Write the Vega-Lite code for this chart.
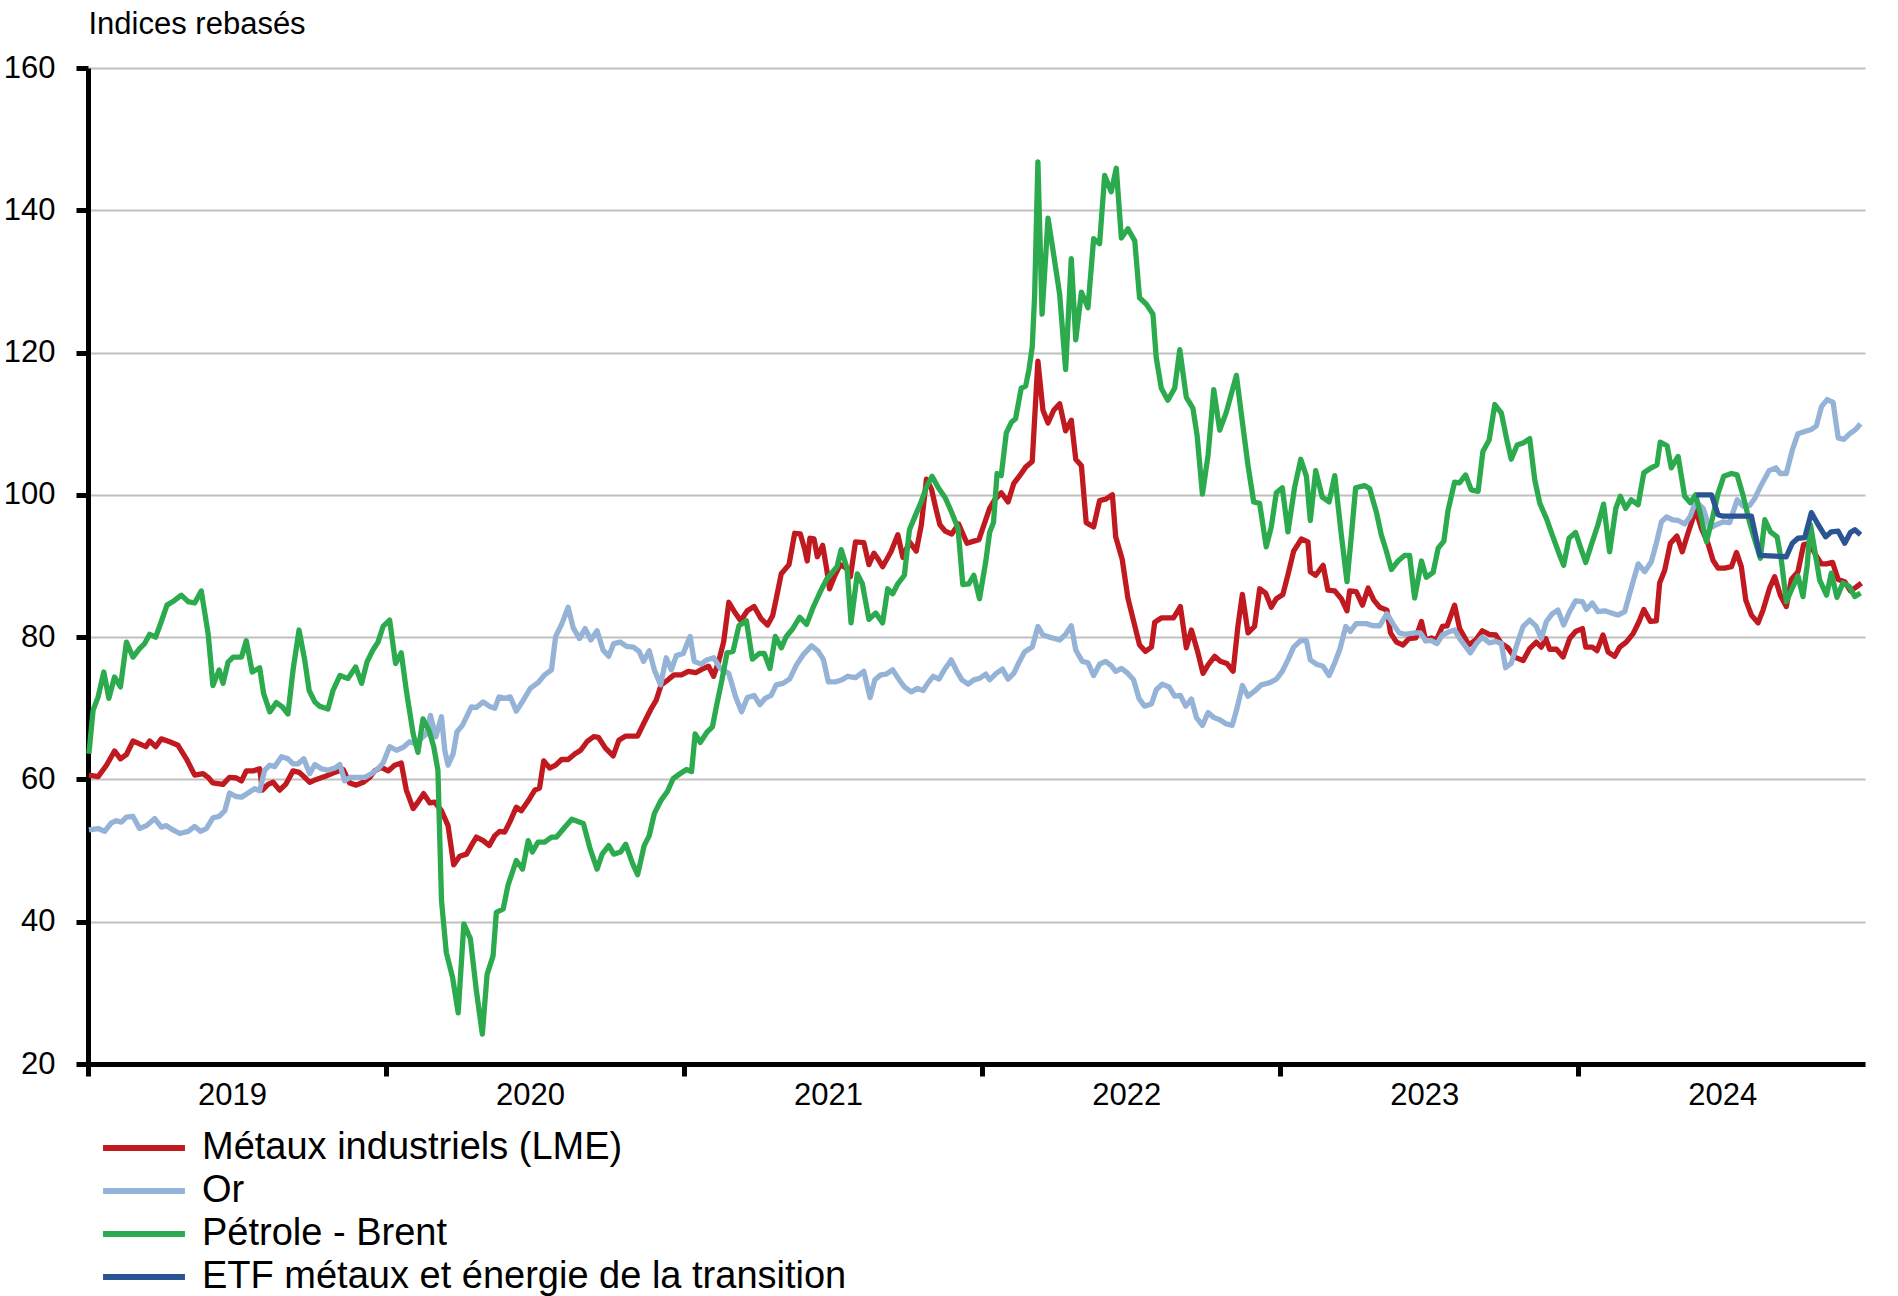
{
"$schema": "https://vega.github.io/schema/vega-lite/v6.json",
"width": 1777, "height": 996,
"autosize": {"type": "none"},
"padding": {"left": 88, "top": 68, "right": 33, "bottom": 232},
"background": "white",
"config": {"font": "Liberation Sans", "view": {"stroke": null}},
"datasets": {
"lme": [
{"t":2019.003,"v":60.6},{"t":2019.034,"v":60.4},{"t":2019.062,"v":62.0},{"t":2019.089,"v":64.0},{"t":2019.109,"v":62.9},{"t":2019.129,"v":63.5},{"t":2019.151,"v":65.4},{"t":2019.173,"v":65.0},{"t":2019.194,"v":64.6},{"t":2019.207,"v":65.4},{"t":2019.227,"v":64.6},{"t":2019.246,"v":65.7},{"t":2019.274,"v":65.3},{"t":2019.302,"v":64.8},{"t":2019.330,"v":62.9},{"t":2019.358,"v":60.6},{"t":2019.386,"v":60.8},{"t":2019.403,"v":60.3},{"t":2019.419,"v":59.5},{"t":2019.453,"v":59.3},{"t":2019.475,"v":60.3},{"t":2019.498,"v":60.2},{"t":2019.515,"v":59.8},{"t":2019.531,"v":61.2},{"t":2019.554,"v":61.2},{"t":2019.576,"v":61.5},{"t":2019.585,"v":58.5},{"t":2019.604,"v":59.3},{"t":2019.621,"v":59.6},{"t":2019.643,"v":58.5},{"t":2019.663,"v":59.3},{"t":2019.688,"v":61.2},{"t":2019.708,"v":61.0},{"t":2019.727,"v":60.3},{"t":2019.744,"v":59.6},{"t":2019.766,"v":60.0},{"t":2019.794,"v":60.4},{"t":2019.822,"v":60.9},{"t":2019.856,"v":61.4},{"t":2019.878,"v":59.5},{"t":2019.900,"v":59.2},{"t":2019.923,"v":59.6},{"t":2019.945,"v":60.3},{"t":2019.962,"v":61.2},{"t":2019.984,"v":61.7},{"t":2020.007,"v":61.2},{"t":2020.029,"v":62.0},{"t":2020.051,"v":62.3},{"t":2020.068,"v":58.5},{"t":2020.091,"v":55.9},{"t":2020.107,"v":56.8},{"t":2020.126,"v":58.0},{"t":2020.147,"v":56.7},{"t":2020.163,"v":56.8},{"t":2020.186,"v":55.6},{"t":2020.208,"v":53.5},{"t":2020.227,"v":48.0},{"t":2020.247,"v":49.2},{"t":2020.270,"v":49.5},{"t":2020.286,"v":50.7},{"t":2020.303,"v":51.9},{"t":2020.326,"v":51.4},{"t":2020.346,"v":50.7},{"t":2020.365,"v":52.1},{"t":2020.381,"v":52.7},{"t":2020.398,"v":52.6},{"t":2020.415,"v":54.0},{"t":2020.437,"v":56.1},{"t":2020.454,"v":55.6},{"t":2020.477,"v":57.0},{"t":2020.499,"v":58.5},
{"t":2020.515,"v":58.8},{"t":2020.529,"v":62.6},{"t":2020.549,"v":61.6},{"t":2020.569,"v":62.0},{"t":2020.589,"v":62.8},{"t":2020.611,"v":62.8},{"t":2020.634,"v":63.6},{"t":2020.653,"v":64.1},{"t":2020.674,"v":65.3},{"t":2020.696,"v":66.0},{"t":2020.713,"v":65.9},{"t":2020.736,"v":64.4},{"t":2020.762,"v":63.3},{"t":2020.781,"v":65.5},{"t":2020.804,"v":66.1},{"t":2020.844,"v":66.1},{"t":2020.866,"v":68.0},{"t":2020.889,"v":69.9},{"t":2020.906,"v":71.1},{"t":2020.923,"v":73.3},{"t":2020.946,"v":74.0},{"t":2020.966,"v":74.7},{"t":2020.991,"v":74.7},{"t":2021.014,"v":75.2},{"t":2021.039,"v":75.0},{"t":2021.065,"v":75.6},{"t":2021.082,"v":75.9},{"t":2021.099,"v":74.5},{"t":2021.116,"v":76.6},{"t":2021.133,"v":79.4},{"t":2021.150,"v":84.9},{"t":2021.170,"v":83.5},{"t":2021.190,"v":82.3},{"t":2021.212,"v":83.7},{"t":2021.235,"v":84.3},{"t":2021.258,"v":82.6},{"t":2021.280,"v":81.7},{"t":2021.297,"v":83.0},{"t":2021.309,"v":85.4},{"t":2021.326,"v":88.9},{"t":2021.352,"v":90.2},{"t":2021.371,"v":94.6},{"t":2021.390,"v":94.5},{"t":2021.405,"v":92.3},{"t":2021.413,"v":90.7},{"t":2021.422,"v":93.9},{"t":2021.436,"v":93.8},{"t":2021.447,"v":91.3},{"t":2021.465,"v":92.9},{"t":2021.479,"v":89.4},{"t":2021.488,"v":86.8},{"t":2021.504,"v":88.5},{"t":2021.524,"v":90.2},{"t":2021.544,"v":89.7},{"t":2021.558,"v":88.5},{"t":2021.575,"v":93.4},{"t":2021.603,"v":93.3},{"t":2021.620,"v":90.2},{"t":2021.637,"v":91.8},{"t":2021.649,"v":91.1},{"t":2021.666,"v":89.9},{"t":2021.694,"v":92.0},{"t":2021.717,"v":94.4},{"t":2021.734,"v":91.2},{"t":2021.756,"v":93.4},{"t":2021.779,"v":92.1},{"t":2021.796,"v":95.8},{"t":2021.813,"v":102.2},{"t":2021.830,"v":100.8},{"t":2021.844,"v":98.2},{"t":2021.858,"v":95.8},{"t":2021.876,"v":94.9},{"t":2021.898,"v":94.5},{"t":2021.921,"v":95.9},{"t":2021.949,"v":93.2},{"t":2021.972,"v":93.5},{"t":2021.989,"v":93.7},{"t":2022.012,"v":96.5},
{"t":2022.025,"v":98.1},{"t":2022.042,"v":99.3},{"t":2022.064,"v":100.3},{"t":2022.087,"v":99.0},{"t":2022.106,"v":101.6},{"t":2022.126,"v":102.7},{"t":2022.146,"v":103.9},{"t":2022.168,"v":104.7},{"t":2022.187,"v":118.8},{"t":2022.204,"v":111.9},{"t":2022.221,"v":110.1},{"t":2022.240,"v":111.9},{"t":2022.260,"v":112.8},{"t":2022.280,"v":109.0},{"t":2022.299,"v":110.5},{"t":2022.314,"v":105.0},{"t":2022.333,"v":104.1},{"t":2022.349,"v":96.1},{"t":2022.374,"v":95.5},{"t":2022.394,"v":99.2},{"t":2022.414,"v":99.4},{"t":2022.437,"v":100.0},{"t":2022.448,"v":94.1},{"t":2022.470,"v":90.9},{"t":2022.489,"v":85.5},{"t":2022.506,"v":82.6},{"t":2022.528,"v":78.9},{"t":2022.548,"v":78.0},{"t":2022.568,"v":78.6},{"t":2022.579,"v":82.1},{"t":2022.601,"v":82.7},{"t":2022.642,"v":82.7},{"t":2022.665,"v":84.3},{"t":2022.685,"v":78.5},{"t":2022.702,"v":81.0},{"t":2022.724,"v":77.8},{"t":2022.741,"v":74.9},{"t":2022.758,"v":76.1},{"t":2022.780,"v":77.3},{"t":2022.799,"v":76.6},{"t":2022.821,"v":76.3},{"t":2022.842,"v":75.2},{"t":2022.858,"v":81.5},{"t":2022.873,"v":86.0},{"t":2022.892,"v":80.6},{"t":2022.914,"v":81.5},{"t":2022.931,"v":86.8},{"t":2022.951,"v":86.2},{"t":2022.970,"v":84.2},{"t":2022.987,"v":85.4},{"t":2023.009,"v":86.0},{"t":2023.026,"v":88.8},{"t":2023.045,"v":92.1},{"t":2023.071,"v":93.8},{"t":2023.093,"v":93.4},{"t":2023.101,"v":89.2},{"t":2023.119,"v":88.7},{"t":2023.144,"v":90.1},{"t":2023.160,"v":86.6},{"t":2023.183,"v":86.5},{"t":2023.205,"v":85.4},{"t":2023.224,"v":83.7},{"t":2023.233,"v":86.5},{"t":2023.255,"v":86.4},{"t":2023.276,"v":84.5},{"t":2023.295,"v":86.9},{"t":2023.314,"v":85.2},{"t":2023.334,"v":84.2},{"t":2023.358,"v":83.8},{"t":2023.370,"v":80.6},{"t":2023.390,"v":79.3},{"t":2023.412,"v":78.9},{"t":2023.432,"v":79.8},{"t":2023.455,"v":79.9},{"t":2023.474,"v":82.2},{"t":2023.488,"v":79.5},{"t":2023.507,"v":79.9},{"t":2023.524,"v":79.6},{"t":2023.544,"v":81.5},{"t":2023.560,"v":81.6},{"t":2023.585,"v":84.5},{"t":2023.602,"v":81.2},
{"t":2023.633,"v":78.9},{"t":2023.656,"v":79.6},{"t":2023.678,"v":80.9},{"t":2023.701,"v":80.4},{"t":2023.723,"v":80.3},{"t":2023.742,"v":79.1},{"t":2023.764,"v":78.5},{"t":2023.787,"v":77.2},{"t":2023.815,"v":76.7},{"t":2023.837,"v":78.4},{"t":2023.859,"v":79.3},{"t":2023.876,"v":78.6},{"t":2023.891,"v":79.8},{"t":2023.904,"v":78.3},{"t":2023.927,"v":78.3},{"t":2023.949,"v":77.2},{"t":2023.971,"v":79.8},{"t":2023.991,"v":80.8},{"t":2024.014,"v":81.2},{"t":2024.025,"v":78.6},{"t":2024.047,"v":78.6},{"t":2024.063,"v":78.1},{"t":2024.083,"v":80.3},{"t":2024.100,"v":77.9},{"t":2024.122,"v":77.3},{"t":2024.139,"v":78.6},{"t":2024.161,"v":79.3},{"t":2024.184,"v":80.5},{"t":2024.204,"v":82.2},{"t":2024.220,"v":83.9},{"t":2024.242,"v":82.2},{"t":2024.262,"v":82.3},{"t":2024.273,"v":87.6},{"t":2024.290,"v":89.4},{"t":2024.309,"v":93.2},{"t":2024.331,"v":94.2},{"t":2024.349,"v":92.0},{"t":2024.368,"v":94.6},{"t":2024.394,"v":97.9},{"t":2024.413,"v":95.3},{"t":2024.435,"v":93.2},{"t":2024.452,"v":90.8},{"t":2024.469,"v":89.7},{"t":2024.491,"v":89.7},{"t":2024.514,"v":89.9},{"t":2024.531,"v":91.9},{"t":2024.547,"v":89.9},{"t":2024.562,"v":85.2},{"t":2024.581,"v":83.1},{"t":2024.603,"v":82.0},{"t":2024.620,"v":83.8},{"t":2024.642,"v":86.9},{"t":2024.659,"v":88.5},{"t":2024.678,"v":85.9},{"t":2024.698,"v":84.3},{"t":2024.715,"v":88.1},{"t":2024.737,"v":89.2},{"t":2024.756,"v":93.0},{"t":2024.777,"v":93.2},{"t":2024.797,"v":91.5},{"t":2024.816,"v":90.3},{"t":2024.833,"v":90.3},{"t":2024.853,"v":90.5},{"t":2024.872,"v":88.1},{"t":2024.894,"v":87.8},{"t":2024.913,"v":86.5},{"t":2024.931,"v":87.0},{"t":2024.950,"v":87.6}
],
"or": [
{"t":2019.003,"v":52.9},{"t":2019.034,"v":53.1},{"t":2019.056,"v":52.7},{"t":2019.078,"v":53.9},{"t":2019.095,"v":54.2},{"t":2019.112,"v":54.0},{"t":2019.129,"v":54.7},{"t":2019.151,"v":54.8},{"t":2019.173,"v":53.1},{"t":2019.196,"v":53.5},{"t":2019.224,"v":54.5},{"t":2019.246,"v":53.3},{"t":2019.263,"v":53.5},{"t":2019.285,"v":52.9},{"t":2019.308,"v":52.4},{"t":2019.336,"v":52.7},{"t":2019.358,"v":53.4},{"t":2019.377,"v":52.7},{"t":2019.397,"v":53.1},{"t":2019.419,"v":54.6},{"t":2019.440,"v":54.8},{"t":2019.459,"v":55.6},{"t":2019.475,"v":58.1},{"t":2019.496,"v":57.6},{"t":2019.515,"v":57.5},{"t":2019.537,"v":58.1},{"t":2019.559,"v":58.7},{"t":2019.576,"v":58.4},{"t":2019.593,"v":61.3},{"t":2019.610,"v":62.0},{"t":2019.626,"v":61.8},{"t":2019.649,"v":63.2},{"t":2019.671,"v":62.9},{"t":2019.688,"v":62.2},{"t":2019.705,"v":62.2},{"t":2019.724,"v":62.9},{"t":2019.744,"v":60.8},{"t":2019.761,"v":62.1},{"t":2019.783,"v":61.5},{"t":2019.805,"v":61.3},{"t":2019.828,"v":61.6},{"t":2019.845,"v":62.1},{"t":2019.861,"v":59.8},{"t":2019.880,"v":60.3},{"t":2019.906,"v":60.3},{"t":2019.928,"v":60.3},{"t":2019.951,"v":60.8},{"t":2019.973,"v":61.5},{"t":2019.990,"v":62.3},{"t":2020.012,"v":64.6},{"t":2020.035,"v":64.1},{"t":2020.057,"v":64.5},{"t":2020.079,"v":65.3},{"t":2020.102,"v":65.0},{"t":2020.124,"v":66.0},{"t":2020.135,"v":66.4},{"t":2020.149,"v":69.0},{"t":2020.167,"v":66.0},{"t":2020.186,"v":68.8},{"t":2020.197,"v":64.1},{"t":2020.208,"v":62.0},{"t":2020.225,"v":63.6},{"t":2020.238,"v":66.7},{"t":2020.256,"v":67.6},{"t":2020.270,"v":68.8},{"t":2020.286,"v":70.2},{"t":2020.303,"v":70.1},{"t":2020.326,"v":70.9},{"t":2020.346,"v":70.3},{"t":2020.365,"v":70.0},{"t":2020.379,"v":71.6},{"t":2020.398,"v":71.4},{"t":2020.417,"v":71.6},{"t":2020.437,"v":69.6},{"t":2020.460,"v":71.1},{"t":2020.484,"v":72.8},{"t":2020.510,"v":73.6},
{"t":2020.532,"v":74.7},{"t":2020.555,"v":75.4},{"t":2020.569,"v":80.1},{"t":2020.589,"v":81.8},{"t":2020.611,"v":84.2},{"t":2020.628,"v":81.3},{"t":2020.649,"v":79.8},{"t":2020.668,"v":81.2},{"t":2020.687,"v":79.6},{"t":2020.708,"v":80.9},{"t":2020.728,"v":78.2},{"t":2020.747,"v":77.3},{"t":2020.764,"v":79.1},{"t":2020.785,"v":79.3},{"t":2020.808,"v":78.7},{"t":2020.830,"v":78.6},{"t":2020.849,"v":78.0},{"t":2020.864,"v":76.6},{"t":2020.883,"v":78.1},{"t":2020.900,"v":75.4},{"t":2020.921,"v":73.3},{"t":2020.940,"v":77.1},{"t":2020.957,"v":75.4},{"t":2020.974,"v":77.4},{"t":2020.997,"v":77.7},{"t":2021.020,"v":80.1},{"t":2021.034,"v":76.6},{"t":2021.057,"v":76.2},{"t":2021.076,"v":76.8},{"t":2021.099,"v":77.1},{"t":2021.122,"v":75.6},{"t":2021.150,"v":74.9},{"t":2021.173,"v":71.6},{"t":2021.193,"v":69.5},{"t":2021.212,"v":71.5},{"t":2021.235,"v":71.8},{"t":2021.254,"v":70.5},{"t":2021.272,"v":71.4},{"t":2021.292,"v":71.8},{"t":2021.309,"v":73.3},{"t":2021.331,"v":73.5},{"t":2021.354,"v":74.1},{"t":2021.377,"v":76.1},{"t":2021.399,"v":77.5},{"t":2021.428,"v":78.8},{"t":2021.450,"v":78.0},{"t":2021.467,"v":76.9},{"t":2021.484,"v":73.7},{"t":2021.507,"v":73.7},{"t":2021.530,"v":74.0},{"t":2021.549,"v":74.5},{"t":2021.575,"v":74.3},{"t":2021.603,"v":75.2},{"t":2021.624,"v":71.5},{"t":2021.640,"v":74.0},{"t":2021.660,"v":74.7},{"t":2021.677,"v":74.8},{"t":2021.700,"v":75.4},{"t":2021.717,"v":74.3},{"t":2021.739,"v":73.0},{"t":2021.762,"v":72.3},{"t":2021.783,"v":72.8},{"t":2021.802,"v":72.5},{"t":2021.819,"v":73.6},{"t":2021.836,"v":74.5},{"t":2021.855,"v":74.1},{"t":2021.876,"v":75.6},{"t":2021.896,"v":76.8},{"t":2021.915,"v":75.2},{"t":2021.932,"v":74.0},{"t":2021.953,"v":73.4},{"t":2021.972,"v":74.0},{"t":2021.991,"v":74.2},{"t":2022.012,"v":74.8},
{"t":2022.025,"v":74.0},{"t":2022.047,"v":74.9},{"t":2022.068,"v":75.5},{"t":2022.087,"v":74.1},{"t":2022.106,"v":74.9},{"t":2022.123,"v":76.4},{"t":2022.142,"v":77.9},{"t":2022.168,"v":78.6},{"t":2022.187,"v":81.5},{"t":2022.204,"v":80.3},{"t":2022.226,"v":80.0},{"t":2022.260,"v":79.6},{"t":2022.280,"v":80.4},{"t":2022.299,"v":81.6},{"t":2022.314,"v":78.2},{"t":2022.336,"v":76.6},{"t":2022.355,"v":76.4},{"t":2022.374,"v":74.6},{"t":2022.394,"v":76.2},{"t":2022.414,"v":76.6},{"t":2022.433,"v":76.0},{"t":2022.448,"v":75.2},{"t":2022.467,"v":75.6},{"t":2022.489,"v":74.9},{"t":2022.508,"v":74.0},{"t":2022.526,"v":71.4},{"t":2022.545,"v":70.3},{"t":2022.568,"v":70.6},{"t":2022.584,"v":72.6},{"t":2022.604,"v":73.4},{"t":2022.627,"v":73.0},{"t":2022.646,"v":71.7},{"t":2022.665,"v":71.8},{"t":2022.683,"v":70.3},{"t":2022.702,"v":71.3},{"t":2022.719,"v":68.7},{"t":2022.739,"v":67.6},{"t":2022.758,"v":69.4},{"t":2022.777,"v":68.7},{"t":2022.797,"v":68.4},{"t":2022.819,"v":67.8},{"t":2022.839,"v":67.6},{"t":2022.855,"v":70.0},{"t":2022.873,"v":73.2},{"t":2022.892,"v":71.7},{"t":2022.914,"v":72.4},{"t":2022.937,"v":73.3},{"t":2022.965,"v":73.6},{"t":2022.987,"v":74.1},{"t":2023.007,"v":75.2},{"t":2023.026,"v":76.8},{"t":2023.045,"v":78.6},{"t":2023.068,"v":79.5},{"t":2023.088,"v":79.5},{"t":2023.101,"v":76.8},{"t":2023.121,"v":76.2},{"t":2023.144,"v":75.9},{"t":2023.164,"v":74.6},{"t":2023.183,"v":76.4},{"t":2023.200,"v":78.3},{"t":2023.220,"v":81.5},{"t":2023.235,"v":80.8},{"t":2023.255,"v":81.9},{"t":2023.289,"v":81.9},{"t":2023.311,"v":81.6},{"t":2023.334,"v":81.6},{"t":2023.358,"v":83.3},{"t":2023.378,"v":81.9},{"t":2023.399,"v":80.6},{"t":2023.418,"v":80.4},{"t":2023.451,"v":80.6},{"t":2023.470,"v":80.6},{"t":2023.488,"v":79.5},{"t":2023.507,"v":79.5},{"t":2023.526,"v":79.1},{"t":2023.544,"v":80.3},{"t":2023.569,"v":80.8},{"t":2023.585,"v":81.0},{"t":2023.602,"v":79.8},
{"t":2023.638,"v":77.8},{"t":2023.658,"v":79.1},{"t":2023.678,"v":80.0},{"t":2023.701,"v":79.2},{"t":2023.723,"v":79.4},{"t":2023.742,"v":79.1},{"t":2023.756,"v":75.7},{"t":2023.775,"v":76.3},{"t":2023.795,"v":79.1},{"t":2023.815,"v":81.5},{"t":2023.837,"v":82.4},{"t":2023.859,"v":81.5},{"t":2023.876,"v":79.8},{"t":2023.893,"v":82.2},{"t":2023.913,"v":83.3},{"t":2023.932,"v":83.8},{"t":2023.951,"v":81.7},{"t":2023.971,"v":83.6},{"t":2023.991,"v":85.1},{"t":2024.014,"v":85.0},{"t":2024.027,"v":83.9},{"t":2024.047,"v":84.8},{"t":2024.066,"v":83.6},{"t":2024.089,"v":83.7},{"t":2024.111,"v":83.4},{"t":2024.133,"v":83.1},{"t":2024.156,"v":83.6},{"t":2024.173,"v":86.2},{"t":2024.201,"v":90.3},{"t":2024.223,"v":89.2},{"t":2024.245,"v":90.6},{"t":2024.262,"v":93.2},{"t":2024.279,"v":96.2},{"t":2024.296,"v":96.9},{"t":2024.316,"v":96.5},{"t":2024.335,"v":96.4},{"t":2024.357,"v":95.9},{"t":2024.376,"v":97.0},{"t":2024.394,"v":99.1},{"t":2024.419,"v":98.1},{"t":2024.441,"v":95.3},{"t":2024.463,"v":95.8},{"t":2024.486,"v":96.2},{"t":2024.508,"v":96.1},{"t":2024.533,"v":99.3},{"t":2024.553,"v":98.4},{"t":2024.575,"v":98.5},{"t":2024.592,"v":99.5},{"t":2024.614,"v":101.4},{"t":2024.640,"v":103.4},{"t":2024.663,"v":103.8},{"t":2024.678,"v":103.0},{"t":2024.698,"v":103.0},{"t":2024.718,"v":106.3},{"t":2024.737,"v":108.6},{"t":2024.760,"v":108.9},{"t":2024.782,"v":109.2},{"t":2024.799,"v":109.7},{"t":2024.816,"v":112.4},{"t":2024.835,"v":113.4},{"t":2024.855,"v":113.0},{"t":2024.872,"v":108.0},{"t":2024.891,"v":107.8},{"t":2024.911,"v":108.6},{"t":2024.931,"v":109.2},{"t":2024.947,"v":110.0}
],
"brent": [
{"t":2019.003,"v":63.6},{"t":2019.017,"v":69.7},{"t":2019.034,"v":71.6},{"t":2019.053,"v":75.1},{"t":2019.070,"v":71.4},{"t":2019.089,"v":74.4},{"t":2019.109,"v":73.0},{"t":2019.129,"v":79.3},{"t":2019.151,"v":77.2},{"t":2019.173,"v":78.4},{"t":2019.190,"v":79.1},{"t":2019.207,"v":80.4},{"t":2019.227,"v":80.0},{"t":2019.246,"v":82.2},{"t":2019.265,"v":84.5},{"t":2019.285,"v":85.0},{"t":2019.313,"v":85.9},{"t":2019.336,"v":85.0},{"t":2019.358,"v":84.8},{"t":2019.380,"v":86.5},{"t":2019.403,"v":80.5},{"t":2019.419,"v":73.2},{"t":2019.440,"v":75.4},{"t":2019.453,"v":73.5},{"t":2019.470,"v":76.5},{"t":2019.487,"v":77.2},{"t":2019.515,"v":77.2},{"t":2019.531,"v":79.5},{"t":2019.551,"v":75.1},{"t":2019.576,"v":75.7},{"t":2019.589,"v":72.1},{"t":2019.610,"v":69.5},{"t":2019.632,"v":70.8},{"t":2019.652,"v":70.2},{"t":2019.671,"v":69.2},{"t":2019.688,"v":75.4},{"t":2019.708,"v":81.0},{"t":2019.727,"v":76.8},{"t":2019.742,"v":72.5},{"t":2019.761,"v":70.9},{"t":2019.777,"v":70.3},{"t":2019.805,"v":69.9},{"t":2019.822,"v":72.5},{"t":2019.845,"v":74.6},{"t":2019.872,"v":74.2},{"t":2019.898,"v":75.8},{"t":2019.918,"v":73.5},{"t":2019.936,"v":76.5},{"t":2019.956,"v":78.2},{"t":2019.973,"v":79.3},{"t":2019.990,"v":81.5},{"t":2020.012,"v":82.4},{"t":2020.032,"v":76.3},{"t":2020.051,"v":77.8},{"t":2020.068,"v":72.5},{"t":2020.091,"v":66.4},{"t":2020.107,"v":63.8},{"t":2020.124,"v":68.5},{"t":2020.144,"v":66.9},{"t":2020.160,"v":64.6},{"t":2020.174,"v":61.3},{"t":2020.186,"v":43.0},{"t":2020.202,"v":35.7},{"t":2020.223,"v":32.2},{"t":2020.242,"v":27.2},{"t":2020.261,"v":39.7},{"t":2020.283,"v":37.6},{"t":2020.303,"v":30.3},{"t":2020.323,"v":24.2},{"t":2020.339,"v":32.6},{"t":2020.359,"v":35.2},{"t":2020.370,"v":41.3},{"t":2020.393,"v":41.8},{"t":2020.409,"v":45.1},{"t":2020.437,"v":48.6},{"t":2020.458,"v":47.4},{"t":2020.477,"v":51.4},{"t":2020.491,"v":49.8},{"t":2020.510,"v":51.2},
{"t":2020.532,"v":51.2},{"t":2020.555,"v":51.9},{"t":2020.572,"v":51.9},{"t":2020.594,"v":53.0},{"t":2020.623,"v":54.4},{"t":2020.662,"v":53.8},{"t":2020.685,"v":50.2},{"t":2020.708,"v":47.4},{"t":2020.725,"v":49.5},{"t":2020.747,"v":50.7},{"t":2020.764,"v":49.5},{"t":2020.787,"v":49.8},{"t":2020.804,"v":50.9},{"t":2020.827,"v":48.2},{"t":2020.844,"v":46.6},{"t":2020.866,"v":50.7},{"t":2020.883,"v":52.1},{"t":2020.900,"v":55.2},{"t":2020.923,"v":57.1},{"t":2020.944,"v":58.3},{"t":2020.963,"v":60.1},{"t":2020.986,"v":60.8},{"t":2021.008,"v":61.4},{"t":2021.025,"v":61.1},{"t":2021.037,"v":66.4},{"t":2021.054,"v":65.2},{"t":2021.076,"v":66.6},{"t":2021.095,"v":67.4},{"t":2021.110,"v":70.6},{"t":2021.127,"v":74.0},{"t":2021.144,"v":77.8},{"t":2021.164,"v":78.0},{"t":2021.184,"v":81.6},{"t":2021.209,"v":82.3},{"t":2021.229,"v":76.9},{"t":2021.252,"v":77.7},{"t":2021.269,"v":77.7},{"t":2021.288,"v":75.6},{"t":2021.306,"v":80.1},{"t":2021.326,"v":78.5},{"t":2021.343,"v":80.1},{"t":2021.363,"v":81.1},{"t":2021.388,"v":82.8},{"t":2021.411,"v":81.8},{"t":2021.433,"v":84.2},{"t":2021.456,"v":86.3},{"t":2021.479,"v":88.2},{"t":2021.499,"v":89.2},{"t":2021.513,"v":89.9},{"t":2021.527,"v":92.3},{"t":2021.547,"v":89.6},{"t":2021.560,"v":82.0},{"t":2021.581,"v":88.9},{"t":2021.598,"v":87.5},{"t":2021.620,"v":82.5},{"t":2021.643,"v":83.4},{"t":2021.666,"v":82.0},{"t":2021.683,"v":86.8},{"t":2021.700,"v":86.1},{"t":2021.717,"v":87.5},{"t":2021.739,"v":88.7},{"t":2021.756,"v":95.1},{"t":2021.773,"v":96.8},{"t":2021.796,"v":99.1},{"t":2021.813,"v":101.1},{"t":2021.832,"v":102.6},{"t":2021.853,"v":101.0},{"t":2021.876,"v":99.6},{"t":2021.896,"v":97.7},{"t":2021.919,"v":95.3},{"t":2021.935,"v":87.4},{"t":2021.955,"v":87.5},{"t":2021.972,"v":88.7},{"t":2021.991,"v":85.4},{"t":2022.012,"v":90.6},
{"t":2022.025,"v":94.7},{"t":2022.038,"v":96.1},{"t":2022.050,"v":103.0},{"t":2022.064,"v":102.7},{"t":2022.081,"v":108.7},{"t":2022.098,"v":110.2},{"t":2022.112,"v":110.7},{"t":2022.131,"v":115.0},{"t":2022.146,"v":115.3},{"t":2022.157,"v":117.6},{"t":2022.168,"v":120.8},{"t":2022.176,"v":128.0},{"t":2022.187,"v":146.8},{"t":2022.201,"v":125.4},{"t":2022.221,"v":138.9},{"t":2022.238,"v":134.3},{"t":2022.260,"v":128.2},{"t":2022.280,"v":117.6},{"t":2022.299,"v":133.2},{"t":2022.314,"v":121.8},{"t":2022.333,"v":128.5},{"t":2022.355,"v":126.3},{"t":2022.374,"v":136.0},{"t":2022.394,"v":135.3},{"t":2022.411,"v":144.9},{"t":2022.433,"v":142.6},{"t":2022.450,"v":145.9},{"t":2022.467,"v":136.1},{"t":2022.489,"v":137.4},{"t":2022.512,"v":135.7},{"t":2022.528,"v":127.7},{"t":2022.551,"v":126.8},{"t":2022.573,"v":125.4},{"t":2022.584,"v":119.3},{"t":2022.601,"v":115.0},{"t":2022.623,"v":113.3},{"t":2022.646,"v":115.0},{"t":2022.663,"v":120.4},{"t":2022.685,"v":113.7},{"t":2022.707,"v":112.2},{"t":2022.721,"v":108.4},{"t":2022.739,"v":100.1},{"t":2022.758,"v":105.6},{"t":2022.777,"v":114.8},{"t":2022.797,"v":109.1},{"t":2022.819,"v":111.6},{"t":2022.853,"v":116.8},{"t":2022.875,"v":109.6},{"t":2022.892,"v":104.1},{"t":2022.911,"v":99.0},{"t":2022.931,"v":98.8},{"t":2022.953,"v":92.7},{"t":2022.970,"v":95.5},{"t":2022.987,"v":100.3},{"t":2023.007,"v":101.0},{"t":2023.026,"v":94.8},{"t":2023.048,"v":101.0},{"t":2023.069,"v":105.0},{"t":2023.088,"v":102.6},{"t":2023.101,"v":96.4},{"t":2023.119,"v":103.4},{"t":2023.141,"v":99.7},{"t":2023.164,"v":99.0},{"t":2023.183,"v":102.7},{"t":2023.205,"v":94.4},{"t":2023.224,"v":87.8},{"t":2023.239,"v":94.4},{"t":2023.253,"v":101.0},{"t":2023.283,"v":101.3},{"t":2023.300,"v":100.9},{"t":2023.323,"v":97.5},{"t":2023.339,"v":94.4},{"t":2023.356,"v":92.1},{"t":2023.373,"v":89.5},{"t":2023.395,"v":90.7},{"t":2023.418,"v":91.5},{"t":2023.434,"v":91.5},{"t":2023.451,"v":85.5},{"t":2023.474,"v":90.7},{"t":2023.490,"v":88.4},{"t":2023.513,"v":89.1},{"t":2023.530,"v":92.5},{"t":2023.549,"v":93.5},{"t":2023.563,"v":97.8},{"t":2023.585,"v":101.8},{"t":2023.602,"v":101.7},
{"t":2023.622,"v":102.8},{"t":2023.641,"v":100.7},{"t":2023.664,"v":100.5},{"t":2023.680,"v":106.1},{"t":2023.701,"v":107.7},{"t":2023.720,"v":112.7},{"t":2023.742,"v":111.5},{"t":2023.759,"v":108.0},{"t":2023.775,"v":105.0},{"t":2023.795,"v":107.0},{"t":2023.815,"v":107.3},{"t":2023.837,"v":107.9},{"t":2023.854,"v":102.1},{"t":2023.871,"v":98.8},{"t":2023.893,"v":96.7},{"t":2023.915,"v":94.1},{"t":2023.935,"v":91.8},{"t":2023.951,"v":90.1},{"t":2023.969,"v":93.9},{"t":2023.991,"v":94.7},{"t":2024.007,"v":92.7},{"t":2024.025,"v":90.5},{"t":2024.044,"v":93.0},{"t":2024.066,"v":95.8},{"t":2024.085,"v":98.7},{"t":2024.105,"v":92.0},{"t":2024.126,"v":98.1},{"t":2024.141,"v":99.8},{"t":2024.159,"v":98.1},{"t":2024.178,"v":99.3},{"t":2024.201,"v":98.6},{"t":2024.220,"v":103.1},{"t":2024.245,"v":103.8},{"t":2024.264,"v":104.2},{"t":2024.275,"v":107.4},{"t":2024.298,"v":106.9},{"t":2024.312,"v":103.8},{"t":2024.335,"v":105.4},{"t":2024.357,"v":99.8},{"t":2024.376,"v":98.9},{"t":2024.394,"v":100.0},{"t":2024.413,"v":96.7},{"t":2024.430,"v":93.4},{"t":2024.450,"v":96.7},{"t":2024.469,"v":100.2},{"t":2024.488,"v":102.6},{"t":2024.514,"v":103.0},{"t":2024.533,"v":102.8},{"t":2024.553,"v":99.9},{"t":2024.575,"v":96.1},{"t":2024.592,"v":93.7},{"t":2024.611,"v":91.1},{"t":2024.626,"v":96.5},{"t":2024.645,"v":94.8},{"t":2024.667,"v":94.1},{"t":2024.682,"v":90.6},{"t":2024.698,"v":85.0},{"t":2024.718,"v":86.9},{"t":2024.737,"v":88.6},{"t":2024.754,"v":85.7},{"t":2024.768,"v":90.1},{"t":2024.779,"v":95.8},{"t":2024.793,"v":92.3},{"t":2024.810,"v":88.0},{"t":2024.833,"v":85.9},{"t":2024.849,"v":89.0},{"t":2024.868,"v":85.6},{"t":2024.888,"v":87.6},{"t":2024.909,"v":87.1},{"t":2024.928,"v":85.7},{"t":2024.947,"v":86.2}
],
"etf": [
{"t":2024.396,"v":100.0},{"t":2024.447,"v":100.0},{"t":2024.469,"v":97.2},{"t":2024.486,"v":97.0},{"t":2024.581,"v":97.0},{"t":2024.609,"v":91.5},{"t":2024.698,"v":91.3},{"t":2024.718,"v":93.2},{"t":2024.737,"v":93.9},{"t":2024.760,"v":94.0},{"t":2024.782,"v":97.5},{"t":2024.805,"v":95.8},{"t":2024.830,"v":94.1},{"t":2024.849,"v":94.8},{"t":2024.872,"v":94.9},{"t":2024.894,"v":93.2},{"t":2024.913,"v":94.7},{"t":2024.928,"v":95.1},{"t":2024.947,"v":94.4}
]
},
"encoding": {
"x": {"field": "t", "type": "quantitative",
 "scale": {"domain": [2019, 2024.962], "nice": false, "zero": false},
 "axis": {"title": null, "values": [2019, 2020, 2021, 2022, 2023, 2024], "format": "d", "labelOffset": 144,
  "labelFont": "Liberation Sans", "labelFontSize": 31, "labelColor": "#000000", "labelPadding": 4, "labelBaseline": "top",
  "labelFlush": false, "labelOverlap": false, "labelBound": false,
  "tickSize": 12, "tickWidth": 5, "tickColor": "#000000", "domainColor": "#000000", "domainWidth": 5, "grid": false}},
"y": {"field": "v", "type": "quantitative",
 "scale": {"domain": [20, 160], "nice": false, "zero": false},
 "axis": {"values": [20, 40, 60, 80, 100, 120, 140, 160], "format": "d",
  "labelFont": "Liberation Sans", "labelFontSize": 31, "labelColor": "#000000", "labelPadding": 21,
  "tickSize": 12, "tickWidth": 5, "tickColor": "#000000", "domainColor": "#000000", "domainWidth": 5,
  "grid": true, "gridColor": "#C0C0C0", "gridWidth": 1.8,
  "title": "Indices rebasés", "titleAngle": 0, "titleX": 0, "titleY": -35, "titleAlign": "left", "titleBaseline": "alphabetic",
  "titleFont": "Liberation Sans", "titleFontSize": 31, "titleFontWeight": "normal", "titleColor": "#000000"}}
},
"layer": [
{"data": {"name": "lme"}, "mark": {"type": "line", "strokeWidth": 5.3, "strokeJoin": "round"},
 "encoding": {"color": {"datum": "Métaux industriels (LME)", "type": "nominal",
  "scale": {"domain": ["Métaux industriels (LME)", "Or", "Pétrole - Brent", "ETF métaux et énergie de la transition"], "range": ["#C0191F", "#95B3D7", "#2BAA4E", "#2A5592"]},
  "legend": {"orient": "none", "legendX": 32, "legendY": 1056, "direction": "vertical", "title": null,
   "labelFont": "Liberation Sans", "labelFontSize": 38, "labelColor": "#000000", "labelLimit": 1200,
   "symbolType": "M-1.95,0L1.95,0", "symbolStrokeWidth": 6, "symbolSize": 1764, "labelOffset": 34, "rowPadding": 0, "padding": 0}}}},
{"data": {"name": "or"}, "mark": {"type": "line", "strokeWidth": 5.3, "strokeJoin": "round"},
 "encoding": {"color": {"datum": "Or", "type": "nominal"}}},
{"data": {"name": "brent"}, "mark": {"type": "line", "strokeWidth": 5.3, "strokeJoin": "round"},
 "encoding": {"color": {"datum": "Pétrole - Brent", "type": "nominal"}}},
{"data": {"name": "etf"}, "mark": {"type": "line", "strokeWidth": 5.3, "strokeJoin": "round"},
 "encoding": {"color": {"datum": "ETF métaux et énergie de la transition", "type": "nominal"}}}
]
}
